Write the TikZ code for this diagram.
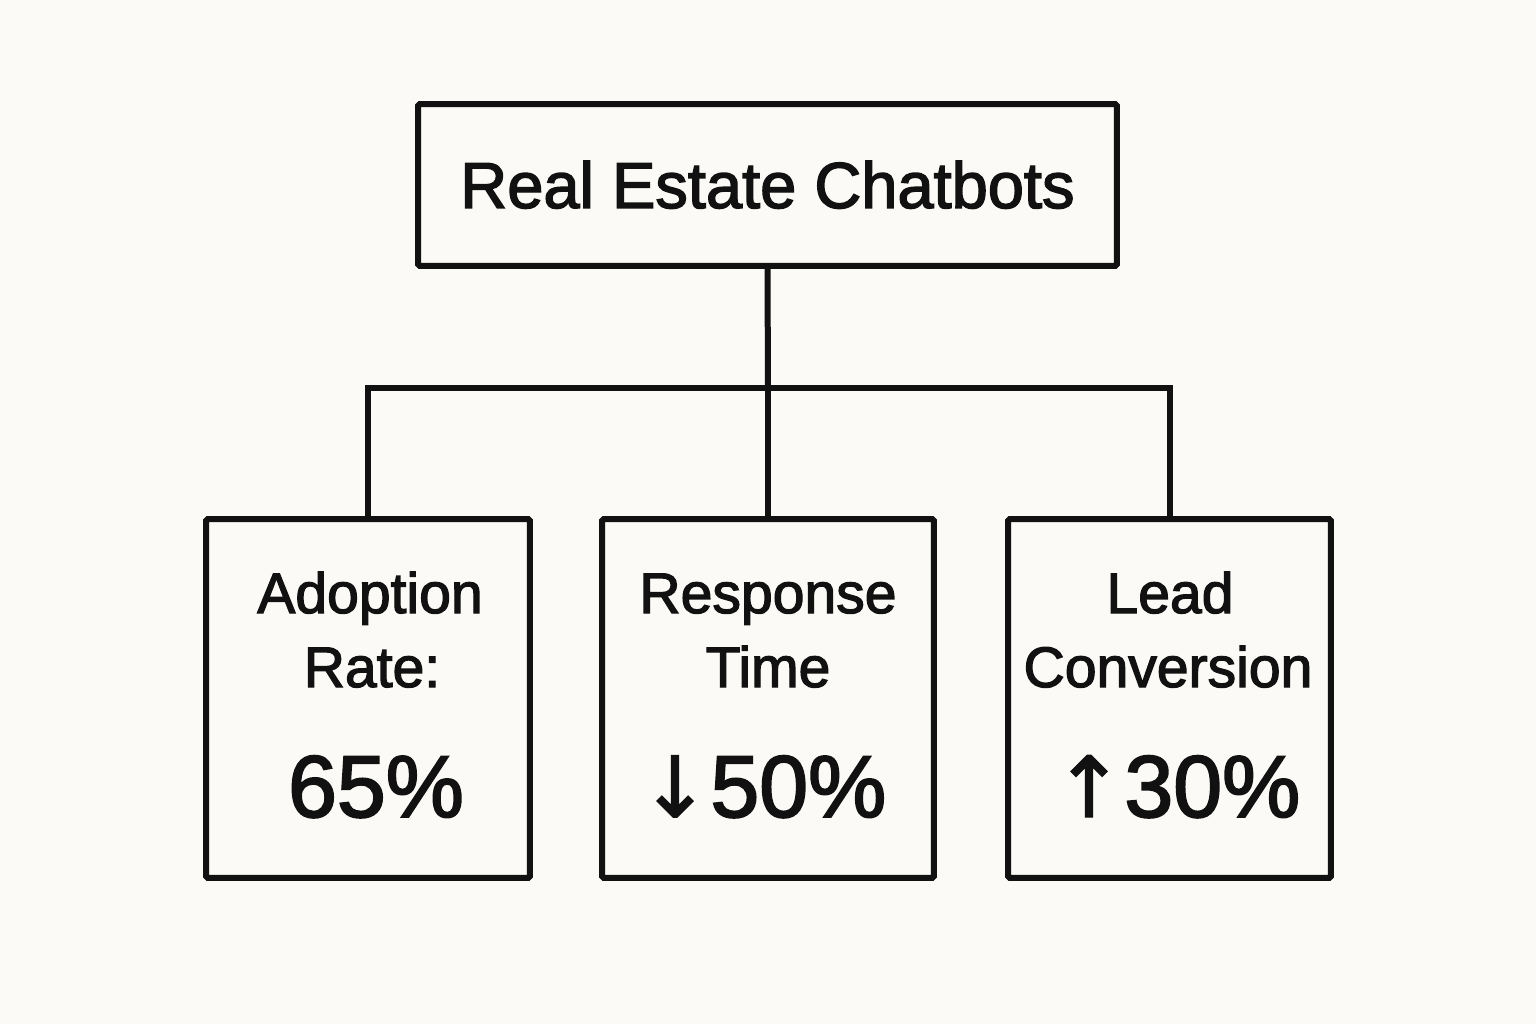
\documentclass[tikz,border=0pt]{standalone}
\usepackage{fontspec}
\setmainfont{Liberation Sans}
\newfontfamily\labelfont[FakeBold=2.2]{Liberation Sans}
\newfontfamily\arrowfont[FakeBold=1.5]{DejaVu Sans}
\usepackage{tikz}
\usetikzlibrary{positioning,calc}
\definecolor{paper}{HTML}{FBFAF6}
\definecolor{ink}{HTML}{111111}

\begin{document}
\begin{tikzpicture}[
    x=0.02cm, y=-0.02cm,
    frame/.style={draw=ink,fill=paper,line width=0.12cm,rounded corners=1pt,
                  inner sep=0pt},
    link/.style={draw=ink,line width=0.12cm},
    title/.style={font=\labelfont\fontsize{37}{40}\selectfont,text=ink,
                  inner sep=0pt,anchor=base},
    caption/.style={font=\labelfont\fontsize{32.5}{36}\selectfont,text=ink,
                  inner sep=0pt,anchor=base},
    figure/.style={font=\labelfont\fontsize{50}{54}\selectfont,text=ink,
                  inner sep=0pt,anchor=base}
  ]

  % canvas
  \fill[paper] (0,0) rectangle (1536,1024);
  \useasboundingbox (0,0) rectangle (1536,1024);

  % boxes
  \node[frame,minimum width=13.98cm,minimum height=3.24cm] (top) at (767.5,185) {};
  \node[frame,minimum width=6.48cm,minimum height=7.18cm] (bA) at (368,698.5) {};
  \node[frame,minimum width=6.64cm,minimum height=7.18cm] (bB) at (768,698.5) {};
  \node[frame,minimum width=6.46cm,minimum height=7.18cm] (bC) at (1169.5,698.5) {};

  % texts
  \node[title] (tTop) at (767.5,208) {Real Estate Chatbots};

  \node[caption] (tA1) at (370,613) {Adoption};
  \node[caption] (tA2) at (372,687) {Rate:};
  \node[figure]  (tA3) at (376,817) {65\%};

  \node[caption] (tB1) at (768,613) {Response};
  \node[caption] (tB2) at (768,687) {Time};
  \node[figure]  (tB3) at (763,817) {{\arrowfont\fontsize{48}{52}\selectfont ↓}50\%};

  \node[caption] (tC1) at (1170,613) {Lead};
  \node[caption] (tC2) at (1168,687) {Conversion};
  \node[figure]  (tC3) at (1177,817) {{\arrowfont\fontsize{48}{52}\selectfont ↑}30\%};

  % connectors
  \coordinate (hub) at (768,388);
  \draw[link] (top.south) -- (hub);
  \draw[link] (bA.north) |- (hub) -| (bC.north);
  \draw[link] (hub) -- (bB.north);

\end{tikzpicture}
\end{document}
